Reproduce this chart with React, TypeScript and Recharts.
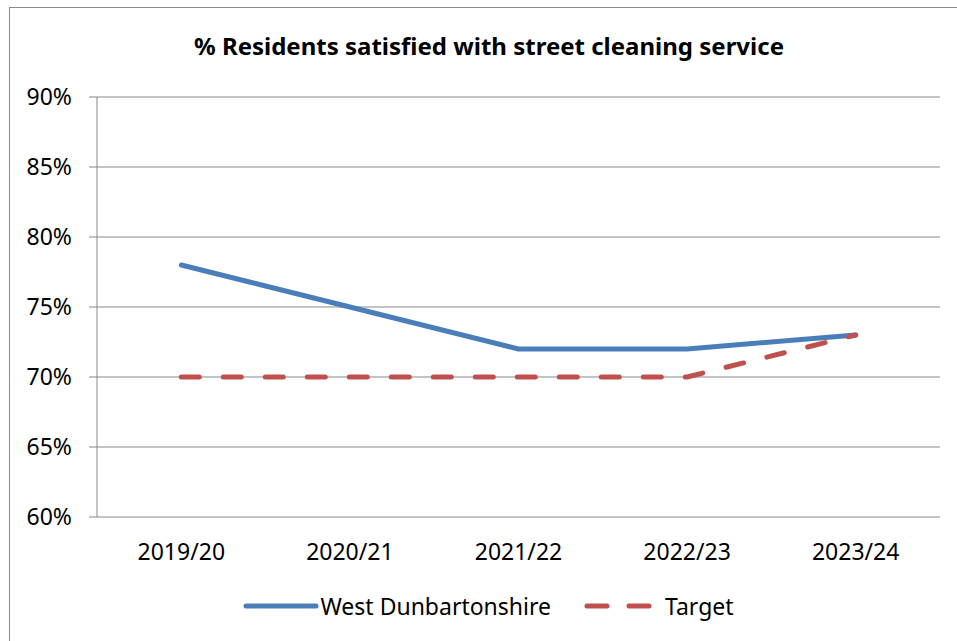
import React from 'react';
import { LineChart, Line, XAxis, YAxis, CartesianGrid, Legend } from 'recharts';

const years = ['2019/20', '2020/21', '2021/22', '2022/23', '2023/24'];
const westDunbartonshire = [78, 75, 72, 72, 73];
const target = [70, 70, 70, 70, 73];
const yTicks = [60, 65, 70, 75, 80, 85, 90];
const boundaryTicks = [0, 1, 2, 3, 4, 5];

const data = years.map((y, i) => ({ year: y, wd: westDunbartonshire[i], target: target[i] }));

const FONT = "'Noto Sans', 'Open Sans', sans-serif";
const GRID = '#898989';
const BLUE = '#4A7EBB';
const RED = '#C0504D';

const LegendContent = () => (
  <div
    style={{
      display: 'flex',
      justifyContent: 'center',
      alignItems: 'center',
      width: 957,
      height: 30,
      fontFamily: FONT,
      fontSize: 23,
      color: '#000',
      paddingLeft: 20,
      boxSizing: 'border-box',
    }}
  >
    <svg width={76} height={10} style={{ marginRight: 1 }}>
      <line x1={3} y1={5} x2={73} y2={5} stroke={BLUE} strokeWidth={5} strokeLinecap="round" />
    </svg>
    <span>West Dunbartonshire</span>
    <svg width={72} height={10} style={{ marginLeft: 33, marginRight: 9 }}>
      <line x1={3} y1={5} x2={69} y2={5} stroke={RED} strokeWidth={5} strokeLinecap="round" strokeDasharray="20 22" />
    </svg>
    <span>Target</span>
  </div>
);

export default function App() {
  return (
    <div style={{ position: 'absolute', left: 0, top: 0, width: 957, height: 641, background: '#fff', overflow: 'hidden' }}>
      <div
        style={{
          position: 'absolute',
          left: 9,
          top: 7,
          width: 960,
          height: 660,
          border: '1px solid #8a8a8a',
          boxSizing: 'border-box',
        }}
      />
      <div
        style={{
          position: 'absolute',
          left: 0,
          top: 29,
          width: 978,
          textAlign: 'center',
          fontFamily: FONT,
          fontWeight: 'bold',
          fontSize: 24,
          color: '#000',
        }}
      >
        % Residents satisfied with street cleaning service
      </div>
      <div style={{ position: 'absolute', left: 0, top: 0 }}>
        <LineChart width={957} height={641} data={data} margin={{ top: 97, right: 17, left: 9, bottom: 34 }}>
          <CartesianGrid vertical={false} stroke={GRID} strokeWidth={1} />
          <XAxis
            xAxisId="b"
            type="number"
            domain={[0, 5]}
            ticks={boundaryTicks}
            tickFormatter={() => ''}
            tickSize={8}
            height={0}
            axisLine={{ stroke: GRID }}
            tickLine={{ stroke: GRID }}
            allowDataOverflow
          />
          <XAxis
            xAxisId="cat"
            dataKey="year"
            type="category"
            scale="band"
            axisLine={false}
            tickLine={false}
            tickSize={0}
            tickMargin={27}
            height={60}
            interval={0}
            tick={{ fill: '#000', fontFamily: FONT, fontSize: 23 }}
          />
          <YAxis
            domain={[60, 90]}
            ticks={yTicks}
            width={88}
            tickFormatter={(v: number) => `${v}%`}
            tickSize={8}
            tickMargin={17}
            axisLine={{ stroke: GRID }}
            tickLine={{ stroke: GRID }}
            tick={{ fill: '#000', fontFamily: FONT, fontSize: 23 }}
            interval={0}
          />
          <Line
            xAxisId="cat"
            dataKey="wd"
            name="West Dunbartonshire"
            stroke={BLUE}
            strokeWidth={5}
            dot={false}
            activeDot={false}
            strokeLinecap="round"
            strokeLinejoin="round"
            isAnimationActive={false}
          />
          <Line
            xAxisId="cat"
            dataKey="target"
            name="Target"
            stroke={RED}
            strokeWidth={5}
            strokeDasharray="18 24"
            strokeLinecap="round"
            strokeLinejoin="round"
            dot={false}
            activeDot={false}
            isAnimationActive={false}
          />
          <Legend
            verticalAlign="bottom"
            height={30}
            content={<LegendContent />}
            wrapperStyle={{ left: 0, bottom: 20, width: 957, height: 30 }}
          />
        </LineChart>
      </div>
    </div>
  );
}
